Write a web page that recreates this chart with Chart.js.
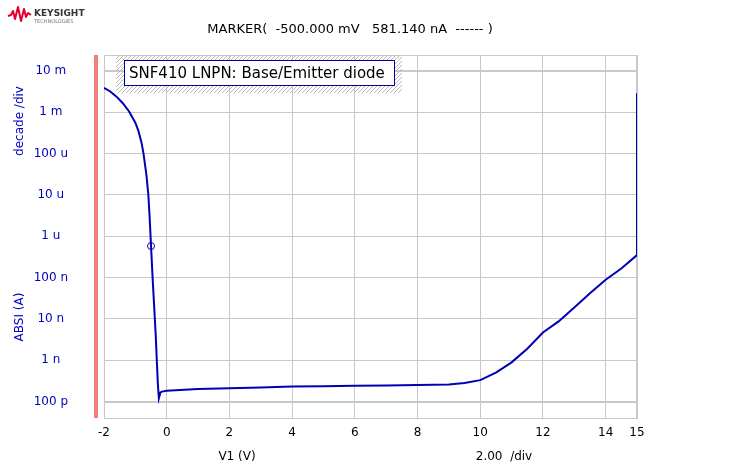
<!DOCTYPE html>
<html>
<head>
<meta charset="utf-8">
<script src="https://cdn.jsdelivr.net/npm/chart.js@4"></script>
<style>
  html, body { margin: 0; padding: 0; background: #fff; }
  #wrap { width: 741px; height: 472px; position: relative; }
</style>
</head>
<body>
<div id="wrap"><canvas id="chart" width="741" height="472"></canvas></div>
<script>
const v1 = [-2.0, -1.8, -1.6, -1.4, -1.2, -1.0, -0.9, -0.8, -0.74, -0.65, -0.585, -0.54, -0.5,
  -0.45, -0.40, -0.35, -0.31, -0.28, -0.25, -0.20, -0.15, 0, 1, 2, 3, 4, 5, 6, 7, 8, 9, 9.5,
  10, 10.5, 11, 11.5, 12, 12.5, 13, 13.5, 14, 14.5, 15, 15, 15];
const absI = [3.9e-3, 3.2e-3, 2.4e-3, 1.66e-3, 1.05e-3, 5.6e-4, 3.5e-4, 1.8e-4, 1.0e-4, 3.2e-5,
  1.0e-5, 2.5e-6, 5.8114e-7, 1.0e-7, 2.0e-8, 4.0e-9, 7.9e-10, 2.5e-10, 1.2e-10, 1.66e-10,
  1.74e-10, 1.82e-10, 2.0e-10, 2.1e-10, 2.2e-10, 2.3e-10, 2.35e-10, 2.4e-10, 2.45e-10, 2.5e-10,
  2.6e-10, 2.8e-10, 3.3e-10, 5.0e-10, 8.9e-10, 1.9e-9, 4.7e-9, 8.7e-9, 1.9e-8, 4.2e-8, 8.9e-8,
  1.66e-7, 3.5e-7, 1.6e-6, 2.9e-3];

// marker
const markerV = -0.5;
const markerI = 581.14e-9;

const xTicks = [-2, 0, 2, 4, 6, 8, 10, 12, 14, 15];
const yTickValues = [1e-10, 1e-9, 1e-8, 1e-7, 1e-6, 1e-5, 1e-4, 1e-3, 1e-2];
const yTickLabels = ['100 p', '1 n', '10 n', '100 n', '1 u', '10 u', '100 u', '1 m', '10 m'];

const FONT = '"DejaVu Sans", sans-serif';
const GRID = '#c8c8c8';
const BLUE = '#0000b4';

const decor = {
  id: 'decor',
  beforeDatasetsDraw(chart) {
    const ctx = chart.ctx;
    const a = chart.chartArea;
    ctx.save();
    // frame
    ctx.strokeStyle = GRID;
    ctx.lineWidth = 1;
    ctx.strokeRect(a.left + 0.5, a.top + 0.5, a.right - a.left - 1, a.bottom - a.top);
    // pink bar
    ctx.fillStyle = '#f08080';
    ctx.fillRect(a.left - 10, a.top, 4, a.bottom - a.top);
    // hatch behind the title box
    const hx = 116, hy = 55, hw = 286, hh = 38;
    ctx.save();
    ctx.beginPath();
    ctx.rect(hx, hy, hw, hh);
    ctx.clip();
    ctx.strokeStyle = '#b8b8b8';
    ctx.lineWidth = 1;
    ctx.beginPath();
    for (let k = -hh; k < hw + hh; k += 4) {
      ctx.moveTo(hx + k, hy + hh);
      ctx.lineTo(hx + k + hh, hy);
    }
    ctx.stroke();
    ctx.restore();
    ctx.restore();
  },
  afterDraw(chart) {
    const ctx = chart.ctx;
    ctx.save();
    // title box
    ctx.fillStyle = '#fff';
    ctx.fillRect(124, 60, 271, 26);
    ctx.strokeStyle = '#0000a0';
    ctx.lineWidth = 1;
    ctx.strokeRect(124.5, 60.5, 270, 25);
    ctx.fillStyle = '#000';
    ctx.font = '15px ' + FONT;
    ctx.textBaseline = 'middle';
    ctx.textAlign = 'left';
    ctx.fillText('SNF410 LNPN: Base/Emitter diode', 129, 74);

    // marker readout
    ctx.font = '13px ' + FONT;
    ctx.textAlign = 'center';
    ctx.fillText('MARKER(  -500.000 mV   581.140 nA  ------ )', 350, 30);

    // axis captions
    ctx.font = '12px ' + FONT;
    ctx.fillText('V1 (V)', 237, 457);
    ctx.fillText('2.00  /div', 504, 457);
    ctx.fillStyle = '#0000c0';
    ctx.save();
    ctx.translate(20, 121);
    ctx.rotate(-Math.PI / 2);
    ctx.fillText('decade /div', 0, 0);
    ctx.restore();
    ctx.save();
    ctx.translate(20, 317);
    ctx.rotate(-Math.PI / 2);
    ctx.fillText('ABSI (A)', 0, 0);
    ctx.restore();

    // logo
    ctx.strokeStyle = '#e4002b';
    ctx.lineWidth = 2;
    ctx.lineJoin = 'round';
    ctx.beginPath();
    const wave = [[8, 16], [11, 15], [13, 11], [15, 19], [18, 7], [21, 21], [24, 9], [26, 17], [28, 13], [31, 15]];
    wave.forEach((p, i) => (i ? ctx.lineTo(p[0], p[1]) : ctx.moveTo(p[0], p[1])));
    ctx.stroke();
    ctx.fillStyle = '#333';
    ctx.textAlign = 'left';
    ctx.textBaseline = 'alphabetic';
    ctx.font = 'bold 9px ' + FONT;
    ctx.fillText('KEYSIGHT', 34, 16);
    ctx.fillStyle = '#777';
    ctx.font = '5px ' + FONT;
    ctx.fillText('TECHNOLOGIES', 34, 23);
    ctx.restore();
  }
};

new Chart(document.getElementById('chart'), {
  type: 'line',
  data: {
    datasets: [
      {
        data: v1.map((v, i) => ({ x: v, y: absI[i] })),
        borderColor: BLUE,
        borderWidth: 2,
        pointRadius: 0,
        tension: 0,
        fill: false,
      },
      {
        data: [{ x: markerV, y: markerI }],
        showLine: false,
        pointStyle: 'circle',
        pointRadius: 3.5,
        pointBorderWidth: 1,
        pointBorderColor: BLUE,
        pointBackgroundColor: 'rgba(0,0,0,0)',
      },
    ],
  },
  options: {
    responsive: false,
    animation: false,
    layout: { padding: { top: 55, right: 104, left: 0, bottom: 0 } },
    plugins: {
      legend: { display: false },
      tooltip: { enabled: false },
    },
    scales: {
      x: {
        type: 'linear',
        min: -2,
        max: 15,
        afterBuildTicks: (s) => { s.ticks = xTicks.map((v) => ({ value: v })); },
        afterFit: (s) => { s.height = 54; },
        grid: { color: GRID, drawTicks: false },
        border: { color: GRID },
        ticks: { color: '#000', padding: 8, font: { family: FONT, size: 12 }, maxRotation: 0, autoSkip: false },
      },
      y: {
        type: 'logarithmic',
        min: 4.0e-11,
        max: 2.44e-2,
        afterBuildTicks: (s) => { s.ticks = yTickValues.map((v) => ({ value: v })); },
        afterFit: (s) => { s.width = 104; },
        grid: {
          color: GRID,
          drawTicks: false,
          lineWidth: (c) => (c.index === 0 || c.index === yTickValues.length - 1 ? 2 : 1),
        },
        border: { color: GRID },
        ticks: {
          color: '#0000c0',
          crossAlign: 'center',
          padding: 36,
          font: { family: FONT, size: 12 },
          autoSkip: false,
          callback: (v, i) => yTickLabels[i],
        },
      },
    },
  },
  plugins: [decor],
});
</script>
</body>
</html>
